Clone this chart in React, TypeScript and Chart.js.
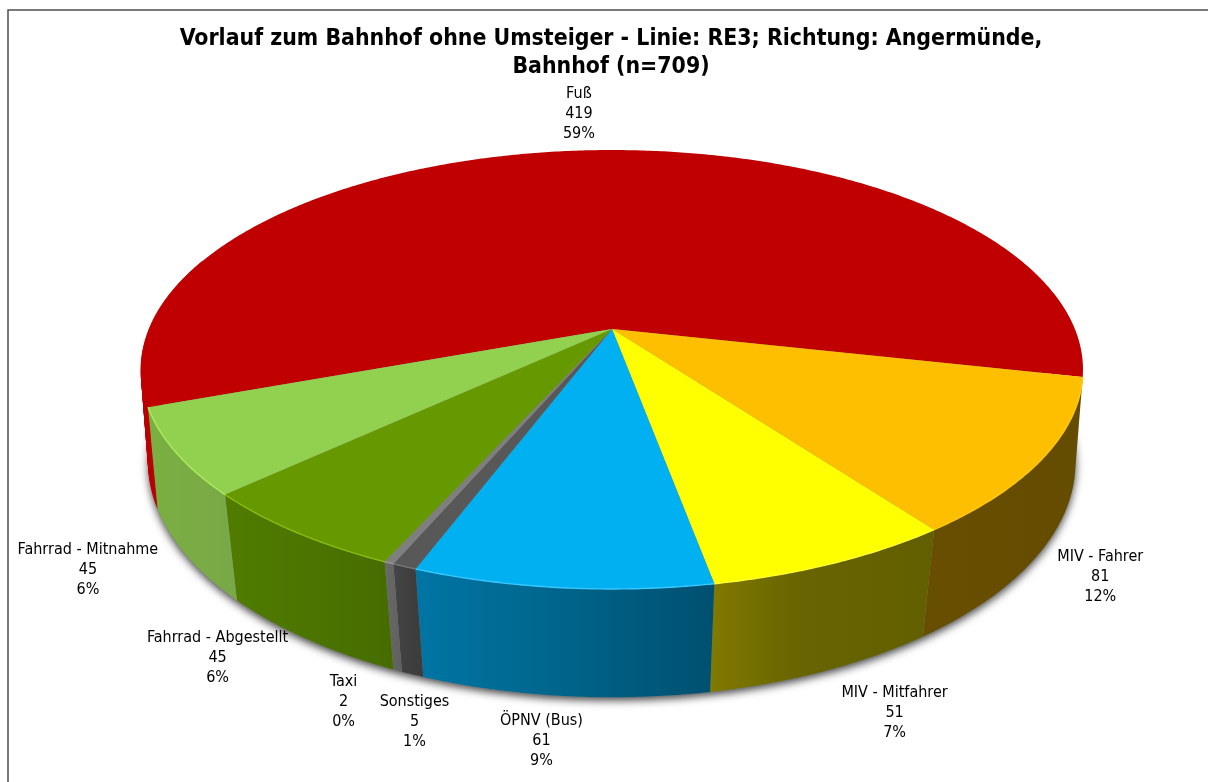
import React, { useEffect, useRef } from "react";
import { Chart, registerables } from "chart.js";

Chart.register(...registerables);

// ---- data ----
const categories = ["Fuß", "MIV - Fahrer", "MIV - Mitfahrer", "ÖPNV (Bus)", "Sonstiges", "Taxi", "Fahrrad - Abgestellt", "Fahrrad - Mitnahme"];
const counts = [419, 81, 51, 61, 5, 2, 45, 45];
const percents = [59, 12, 7, 9, 1, 0, 6, 6];
const titleLines = ["Vorlauf zum Bahnhof ohne Umsteiger - Linie: RE3; Richtung: Angermünde,", "Bahnhof (n=709)"];

// ---- styles ----
const topColors = ["#C00000", "#FDBF00", "#FFFF00", "#00B0F0", "#585858", "#7F7F7F", "#669900", "#92D050"];
const wallLeft = ["#bc0000", "#674e00", "#807a00", "#0075a5", "#444444", "#6a6a6a", "#507c00", "#7ab040"];
const wallMid = ["#bc0000", "#664d00", "#686400", "#00688f", "#404040", "#656565", "#4c7600", "#7aac44"];
const wallRight = ["#b80000", "#644c00", "#625f00", "#005070", "#3c3c3c", "#606060", "#466c00", "#78a848"];
const rimLight = ["#d02020", "#ffc810", "#ffff30", "#38c8ff", "#777777", "#999999", "#88bb10", "#aeea60"];

// ---- projection of the pie disc (perspective view) ----
const TOP = { cx: 612, cy: 329, a: 462.9, b: 212, p: 0.1845 };
const BOTTOM = { cx: 612, cy: 425, a: 457.6, b: 229, p: 0.159 };
const project = (plane: typeof TOP, t: number): [number, number] => {
  const u = Math.cos(t), v = Math.sin(t), w = 1 - plane.p * v;
  return [plane.cx + (plane.a * u) / w, plane.cy + (plane.b * v) / w];
};
const ROTATION_DEG = -110.2;
const STEP = Math.PI / 360;
const DEG = Math.PI / 180;

// label offset from the slice's mid-angle rim point, in px
const labelOffsets: [number, number][] = [
  [-7, -37], [68.5, 14.6], [70, 42], [-22.6, 45], [2, 47.6], [-54, 31.5], [-89, 19], [-99, 14],
];
const LABEL_FONT = "16px 'DejaVu Sans Condensed', 'DejaVu Sans'";
const LINE_H = 20;

const arcPoints = (plane: typeof TOP, s: number, e: number) => {
  const pts: [number, number][] = [];
  const n = Math.max(2, Math.ceil((e - s) / STEP));
  for (let i = 0; i <= n; i++) pts.push(project(plane, s + ((e - s) * i) / n));
  return pts;
};

const pie3d = {
  id: "pie3d",
  beforeDraw(chart: any) {
    const { ctx, width, height } = chart;
    ctx.save();
    ctx.fillStyle = "#ffffff";
    ctx.fillRect(0, 0, width, height);
    ctx.strokeStyle = "#4f4f4f";
    ctx.lineWidth = 1.5;
    ctx.beginPath();
    ctx.moveTo(8, height);
    ctx.lineTo(8, 10);
    ctx.lineTo(width, 10);
    ctx.stroke();
    ctx.restore();
  },
  beforeDatasetsDraw(chart: any) {
    const { ctx } = chart;
    const arcs = chart.getDatasetMeta(0).data.map((el: any) => el.getProps(["startAngle", "endAngle"], true));
    ctx.save();

    // soft shadow below the base
    ctx.save();
    ctx.shadowColor = "rgba(0,0,0,0.75)";
    ctx.shadowBlur = 8;
    ctx.shadowOffsetY = 3;
    ctx.fillStyle = "#888";
    ctx.beginPath();
    arcPoints(BOTTOM, 0, Math.PI * 2).forEach(([x, y], i) => (i ? ctx.lineTo(x, y) : ctx.moveTo(x, y)));
    ctx.closePath();
    ctx.fill();
    ctx.restore();

    // side walls
    arcs.forEach((arc: any, i: number) => {
      const s = arc.startAngle, e = arc.endAngle;
      if (e - s > Math.PI) {
        // a slice wider than a half turn shows only its left end: solid quads follow the silhouette
        const up = arcPoints(TOP, s, s + 40 * DEG);
        const low = arcPoints(BOTTOM, s, s + 40 * DEG);
        ctx.fillStyle = wallLeft[i];
        ctx.strokeStyle = wallLeft[i];
        ctx.lineWidth = 0.4;
        for (let k = 0; k + 1 < up.length; k++) {
          ctx.beginPath();
          ctx.moveTo(up[k][0], up[k][1]);
          ctx.lineTo(up[k + 1][0], up[k + 1][1]);
          ctx.lineTo(low[k + 1][0], low[k + 1][1]);
          ctx.lineTo(low[k][0], low[k][1]);
          ctx.closePath();
          ctx.fill();
          ctx.stroke();
        }
        return;
      }
      const up = arcPoints(TOP, s, e);
      const low = arcPoints(BOTTOM, s, e);
      const xs = up.concat(low).map((p) => p[0]);
      const g = ctx.createLinearGradient(Math.min(...xs), 0, Math.max(...xs), 0);
      g.addColorStop(0, wallLeft[i]);
      g.addColorStop(0.4, wallMid[i]);
      g.addColorStop(1, wallRight[i]);
      ctx.fillStyle = g;
      ctx.beginPath();
      up.forEach(([x, y], k) => (k ? ctx.lineTo(x, y) : ctx.moveTo(x, y)));
      low.reverse().forEach(([x, y]) => ctx.lineTo(x, y));
      ctx.closePath();
      ctx.fill();
    });

    // top faces
    arcs.forEach((arc: any, i: number) => {
      ctx.fillStyle = chart.data.datasets[0].backgroundColor[i];
      ctx.beginPath();
      ctx.moveTo(TOP.cx, TOP.cy);
      arcPoints(TOP, arc.startAngle, arc.endAngle).forEach(([x, y]) => ctx.lineTo(x, y));
      ctx.closePath();
      ctx.fill();
    });

    // light bevel on the front rim
    arcs.forEach((arc: any, i: number) => {
      if (i === 0) return;
      ctx.strokeStyle = rimLight[i];
      ctx.lineWidth = 1.4;
      ctx.beginPath();
      arcPoints(TOP, arc.startAngle, arc.endAngle).forEach(([x, y], k) => (k ? ctx.lineTo(x, y) : ctx.moveTo(x, y)));
      ctx.stroke();
    });

    // data labels
    ctx.fillStyle = "#000";
    ctx.font = LABEL_FONT;
    ctx.textAlign = "center";
    ctx.textBaseline = "middle";
    arcs.forEach((arc: any, i: number) => {
      const mid = (arc.startAngle + arc.endAngle) / 2;
      const [rx, ry] = project(Math.sin(mid) < 0 ? TOP : BOTTOM, mid);
      const x = rx + labelOffsets[i][0];
      const y = ry + labelOffsets[i][1];
      [categories[i], String(counts[i]), `${percents[i]}%`].forEach((line, k) => {
        ctx.fillText(line, x, y + (k - 1) * LINE_H);
      });
    });
    ctx.restore();
    return false;
  },
};

export default function App() {
  const ref = useRef<HTMLCanvasElement>(null);
  useEffect(() => {
    const chart = new Chart(ref.current as HTMLCanvasElement, {
      type: "pie",
      data: {
        labels: categories,
        datasets: [{ data: counts, backgroundColor: topColors, borderWidth: 0 }],
      },
      options: {
        animation: false,
        responsive: false,
        rotation: ROTATION_DEG,
        layout: { padding: { left: 14, top: 25 } },
        plugins: {
          legend: { display: false },
          tooltip: { enabled: false },
          title: {
            display: true,
            text: titleLines,
            color: "#000",
            font: { family: "'DejaVu Sans Condensed', 'DejaVu Sans'", weight: "bold", size: 22.85, lineHeight: 1.22 },
            padding: 0,
          },
        },
      },
      plugins: [pie3d],
    } as any);
    return () => chart.destroy();
  }, []);
  return (
    <div style={{ position: "fixed", left: 0, top: 0, width: 1208, height: 782, background: "#fff" }}>
      <canvas ref={ref} width={1208} height={782} style={{ display: "block", width: 1208, height: 782 }} />
    </div>
  );
}
